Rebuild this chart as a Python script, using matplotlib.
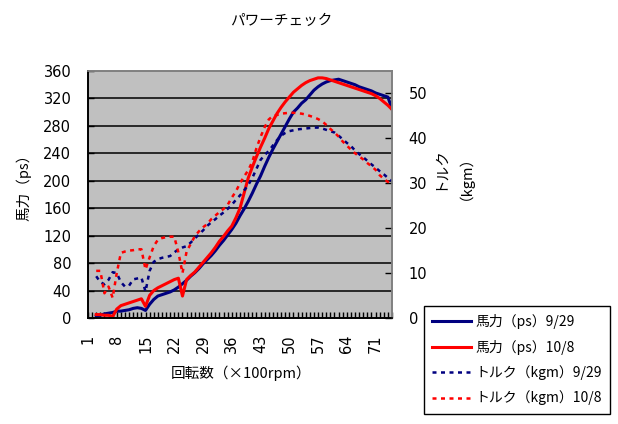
import numpy as np
import matplotlib
matplotlib.use("Agg")
import matplotlib.pyplot as plt

plt.rcParams['font.family'] = ['Noto Sans CJK JP', 'DejaVu Sans']

# categories 1..75 (x 100rpm); data starts at category 3
categories = list(range(1, 76))
data_cats = categories[2:]

hp_0929 = [3, 4, 6, 7, 8, 10, 10, 11, 12, 14, 15, 14,
           11, 20, 27, 32, 34, 36, 38, 41, 45, 50,
           55, 61, 66, 72, 79, 85, 91, 98, 106, 113,
           121, 129, 138, 149, 159, 170, 182, 195, 207, 221,
           234, 246, 257, 268, 279, 290, 300, 306, 313, 318,
           325, 332, 337, 341, 344, 346, 347, 348, 346, 344,
           342, 340, 337, 335, 333, 331, 328, 326, 324, 322,
           305]
hp_1008 = [5, 5, 4, 4, 2, 13, 18, 20, 22, 24, 26, 28,
           17, 33, 40, 44, 47, 50, 53, 56, 58, 32,
           56, 62, 67, 74, 81, 88, 95, 103, 112, 119,
           127, 134, 146, 160, 182, 204, 220, 235, 249, 262,
           276, 287, 298, 307, 315, 322, 329, 334, 339, 343,
           346, 348, 350, 350, 349, 347, 345, 343, 341, 339,
           337, 335, 333, 331, 329, 327, 324, 320, 315, 310,
           304]
tq_0929 = [9.3, 8.0, 7.5, 8.5, 10.2, 10.0, 8.0, 7.0, 7.2, 8.6, 8.8, 9.0,
           5.9, 10.5, 12.5, 13.1, 13.4, 13.6, 13.8, 14.6, 15.3, 15.7,
           16.0, 16.8, 17.7, 18.6, 19.5, 20.5, 21.3, 22.0, 22.8, 23.5,
           24.3, 25.2, 26.3, 27.3, 28.4, 29.6, 31.2, 33.2, 35.2, 36.3,
           37.2, 38.4, 39.6, 40.6, 41.2, 41.6, 41.8, 42.0, 42.1, 42.2,
           42.3, 42.4, 42.4, 42.2, 41.9, 41.6, 41.3, 40.6, 39.8, 39.0,
           38.3, 37.3, 36.5, 35.8, 35.0, 34.2, 33.5, 32.7, 32.0, 31.2,
           30.5]
tq_1008 = [10.5, 10.5, 5.5, 7.0, 4.5, 10.0, 14.5, 14.8, 15.0, 15.1, 15.3, 15.3,
           10.8, 13.5, 16.0, 17.4, 17.8, 18.0, 18.1, 18.1, 14.6, 10.0,
           14.8, 16.5, 18.2, 19.3, 20.2, 20.9, 22.0, 22.8, 23.6, 24.3,
           25.2, 26.8, 28.2, 30.0, 31.5, 32.9, 34.8, 37.8, 40.3, 42.5,
           44.2, 45.0, 45.2, 45.5, 45.6, 45.7, 45.7, 45.6, 45.5, 45.3,
           45.0, 44.7, 44.3, 43.8, 43.0, 42.1, 41.3, 40.4, 39.3, 38.4,
           37.5, 36.7, 36.0, 35.3, 34.5, 33.8, 33.0, 31.8, 31.0, 30.3,
           30.0]

hp_ticks = list(range(0, 361, 40))
tq_ticks = list(range(0, 51, 10))
label_cats = categories[::7][:11]

W, H = 618, 424
fig = plt.figure(figsize=(W / 100, H / 100), dpi=100)
ax = fig.add_axes([88 / W, (H - 318) / H, (392 - 88) / W, (318 - 71) / H])
ax.set_facecolor('#C0C0C0')
ax2 = ax.twinx()

navy = '#000080'
red = '#FF0000'
l1, = ax.plot(data_cats, hp_0929, color=navy, lw=2.2, label='馬力（ps）9/29')
l2, = ax.plot(data_cats, hp_1008, color=red, lw=2.2, label='馬力（ps）10/8')
l3, = ax2.plot(data_cats, tq_0929, color=navy, lw=1.8, ls=(0, (1.6, 1.8)),
               label='トルク（kgm）9/29')
l4, = ax2.plot(data_cats, tq_1008, color=red, lw=1.8, ls=(0, (1.6, 1.8)),
               label='トルク（kgm）10/8')

ax.set_xlim(1, 75)
ax.set_ylim(0, 360)
ax2.set_ylim(0, 55)

# horizontal gridlines
for y in hp_ticks[1:-1]:
    ax.axhline(y, color='black', lw=1.1, zorder=1)

ax.set_yticks(hp_ticks)
ax.set_yticklabels([str(v) for v in hp_ticks], family='DejaVu Sans', fontsize=10.5)
ax2.set_yticks(tq_ticks)
ax2.set_yticklabels([str(v) for v in tq_ticks], family='DejaVu Sans', fontsize=10.5)
ax.set_xticks(categories)
ax.set_xticklabels([str(c) if c in label_cats else '' for c in categories],
                   family='DejaVu Sans', fontsize=10.5, rotation=90, va='top')

ax.tick_params(axis='y', direction='in', length=4, width=1, pad=12)
ax.tick_params(axis='x', direction='in', length=4, width=1, pad=12)
ax2.tick_params(axis='y', direction='in', length=5, width=1, pad=12)

for a in (ax, ax2):
    a.spines['left'].set_color('black')
    a.spines['bottom'].set_color('black')
    a.spines['top'].set_color('#808080')
    a.spines['right'].set_color('#808080')
    for s in a.spines.values():
        s.set_linewidth(1.2)

fig.text(281 / W, 1 - 21 / H, 'パワーチェック', ha='center', va='center', fontsize=10.5)
fig.text(24 / W, 1 - 184 / H, '馬力（ps）', ha='center', va='center', rotation=90, fontsize=10.5)
fig.text(440 / W, 1 - 168 / H, 'トルク', ha='center', va='center', rotation=90, fontsize=10.5)
fig.text(458 / W, 1 - 170 / H, '（kgm）', ha='center', va='center', rotation=90, fontsize=10.5)
fig.text(241 / W, 1 - 373 / H, '回転数（×100rpm）', ha='center', va='center', fontsize=10.5)

leg = fig.legend(handles=[l1, l2, l3, l4], loc='upper left',
                 bbox_to_anchor=(424 / W, 1 - 306 / H), bbox_transform=fig.transFigure,
                 borderaxespad=0, fontsize=10, handlelength=2.8, handletextpad=0.3,
                 labelspacing=0.75, borderpad=0.6, fancybox=False, framealpha=1)
leg.get_frame().set_edgecolor('black')
leg.get_frame().set_linewidth(1)

fig.savefig('out.png', dpi=100)
